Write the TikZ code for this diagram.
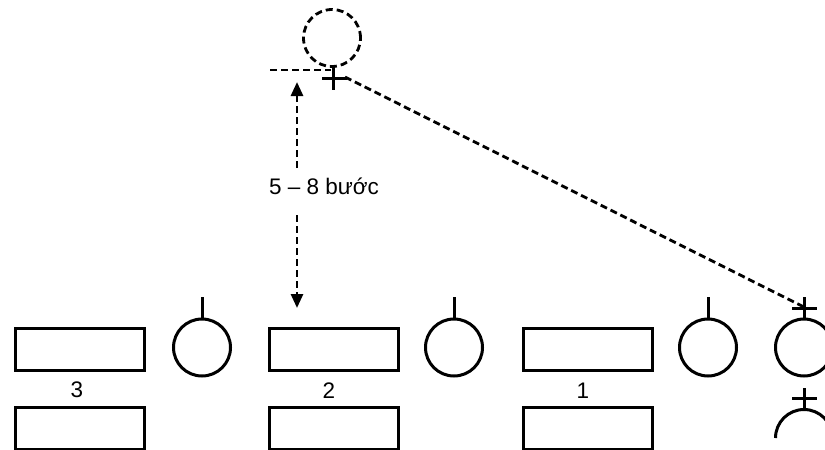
\documentclass[tikz,border=0pt]{standalone}
\usepackage{fontspec}
\setmainfont{Liberation Sans}
\usetikzlibrary{arrows.meta}
\begin{document}
\begin{tikzpicture}[x=1pt,y=-1pt,
  solid line/.style={line width=3pt,black},
  slot/.style={draw,line width=3pt,minimum width=129pt,minimum height=42pt,inner sep=0pt},
  body/.style={draw,circle,line width=3pt,minimum size=57pt,inner sep=0pt},
  dline/.style={line width=2.8pt,dash pattern=on 7pt off 4pt},
  lbl/.style={font=\fontsize{22.5}{26}\selectfont,inner sep=1pt},
  tip/.style={-{Triangle[length=14pt,width=12pt]}}]
\useasboundingbox (0,0) rectangle (825,450);
% rectangles
\node[slot] (r3a) at (80,349.5) {};
\node[slot] (r3b) at (80,428) {};
\node[slot] (r2a) at (334,349.5) {};
\node[slot] (r2b) at (334,428) {};
\node[slot] (r1a) at (587.5,349.5) {};
\node[slot] (r1b) at (587.5,428) {};
\node[lbl] (n3) at (77,390) {3};
\node[lbl] (n2) at (329,391) {2};
\node[lbl] (n1) at (583,391) {1};
% circles with stems
\node[body] (c3) at (202,347.5) {};
\node[body] (c2) at (454,347.5) {};
\node[body] (c1) at (708,347.5) {};
\node[body] (c4) at (804,347.5) {};
\draw[solid line] (c3.north) -- ++(0,-21);
\draw[solid line] (c2.north) -- ++(0,-21);
\draw[solid line] (c1.north) -- ++(0,-21);
% plus on c4
\draw[solid line] (c4.north) -- ++(0,-21);
\draw[solid line] (792,308) -- (817,308);
\coordinate (p4) at (804,307);
% bottom partial circle
\draw[solid line] (775.5,438) arc[start angle=180,end angle=360,radius=28.5];
\draw[solid line] (804,409.5) -- (804,388);
\draw[solid line] (792,398) -- (817,398);
% top dashed circle
\node[body,dline,draw] (ct) at (332,38) {};
\draw[solid line] (333,67) -- (333,90);
\draw[solid line] (322,78) -- (347,78);
\coordinate (pt) at (345,77);
% dashed horizontal reference
\coordinate (hl) at (270,70);
\coordinate (hr) at (331,70);
\draw[dline] (hl) -- (hr);
% diagonal dashed line
\draw[dline] (pt) -- (p4);
% distance arrow
\coordinate (at) at (297,82);
\coordinate (am1) at (297,168);
\coordinate (am2) at (297,215);
\coordinate (ab) at (297,308);
\draw[dline,tip] (am1) -- (at);
\draw[dline,tip] (am2) -- (ab);
\node[lbl] (dist) at (324,186) {5 – 8 bước};
\end{tikzpicture}
\end{document}
